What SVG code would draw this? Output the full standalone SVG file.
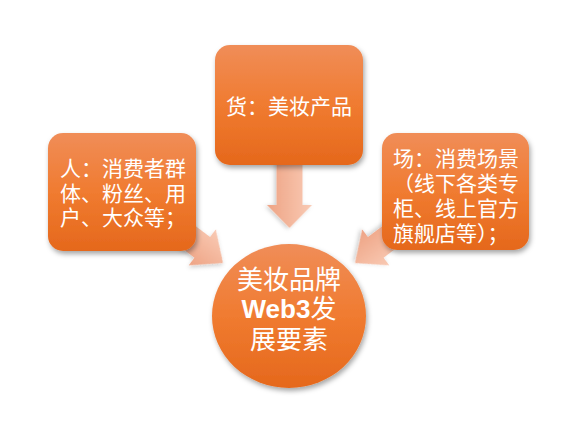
<svg xmlns="http://www.w3.org/2000/svg" width="588" height="431" viewBox="0 0 588 431">
<defs>
<linearGradient id="og" x1="0" y1="0" x2="0" y2="1">
<stop offset="0" stop-color="#f08d58"/>
<stop offset="0.5" stop-color="#f07b30"/>
<stop offset="1" stop-color="#e5681c"/>
</linearGradient>
<linearGradient id="ag" x1="0" y1="0" x2="0" y2="1">
<stop offset="0" stop-color="#f9cab4"/>
<stop offset="1" stop-color="#eea384"/>
</linearGradient>
<filter id="sh" x="-20%" y="-20%" width="140%" height="150%">
<feDropShadow dx="1.5" dy="3" stdDeviation="2.5" flood-color="#000" flood-opacity="0.35"/>
</filter>
<filter id="ash" x="-20%" y="-20%" width="140%" height="150%">
<feDropShadow dx="1" dy="2" stdDeviation="2" flood-color="#000" flood-opacity="0.2"/>
</filter>
</defs>
<style>
.box{fill:url(#og);filter:url(#sh)}
.arr{fill:url(#ag);filter:url(#ash)}
.t{fill:#fff;font-family:"Noto Sans CJK SC","Noto Sans",sans-serif;font-size:21px}
.c{fill:#fff;font-family:"Noto Sans CJK SC","Noto Sans",sans-serif;font-size:26px;text-anchor:middle}
.b{font-family:"Liberation Sans",Arial,sans-serif;font-weight:bold}
</style>
<g id="connectors">
<polygon class="arr" transform="translate(289.5,228) rotate(90)" points="-70,-13 -23,-13 -23,-22.5 0,0 -23,22.5 -23,13 -70,13"/>
<polygon class="arr" transform="translate(223,263) rotate(37)" points="-60,-13 -26,-13 -26,-22.5 0,0 -26,22.5 -26,13 -60,13"/>
<polygon class="arr" transform="translate(355,263) rotate(143)" points="-60,-13 -26,-13 -26,-22.5 0,0 -26,22.5 -26,13 -60,13"/>
</g>
<g id="node-goods">
<rect class="box" x="215" y="45" width="148" height="120" rx="15"/>
<text class="t" x="289" y="114" text-anchor="middle">货：美妆产品</text>
</g>
<g id="node-people">
<rect class="box" x="48" y="133" width="148" height="118" rx="15"/>
<text class="t" x="60" y="176"><tspan x="60" y="176">人：消费者群</tspan><tspan x="60" y="201">体、粉丝、用</tspan><tspan x="60" y="225">户、大众等；</tspan></text>
</g>
<g id="node-place">
<rect class="box" x="382" y="133" width="147" height="117" rx="15"/>
<text class="t" x="393" y="166"><tspan x="393" y="166">场：消费场景</tspan><tspan x="393" y="191">（线下各类专</tspan><tspan x="393" y="216">柜、线上官方</tspan><tspan x="393" y="241">旗舰店等）；</tspan></text>
</g>
<g id="node-center">
<ellipse class="box" cx="289" cy="316" rx="77" ry="72"/>
<text class="c" x="289" y="289"><tspan x="289" y="289">美妆品牌</tspan><tspan x="289" y="318"><tspan class="b">Web3</tspan>发</tspan><tspan x="289" y="349">展要素</tspan></text>
</g>
</svg>
